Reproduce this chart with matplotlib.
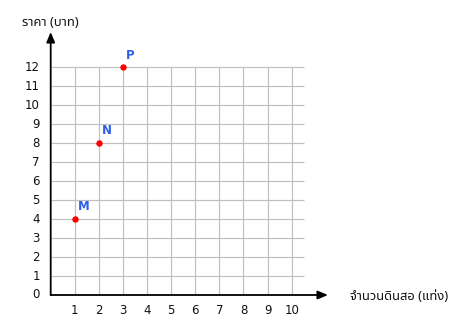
import matplotlib
matplotlib.use("Agg")
import matplotlib.pyplot as plt

# data
x_ticks = [1, 2, 3, 4, 5, 6, 7, 8, 9, 10]
y_ticks = [0, 1, 2, 3, 4, 5, 6, 7, 8, 9, 10, 11, 12]
point_names = ["M", "N", "P"]
point_x = [1, 2, 3]
point_y = [4, 8, 12]
x_label = "จำนวนดินสอ (แท่ง)"
y_label = "ราคา (บาท)"

THAI = ["Noto Sans Thai", "Sarabun", "DejaVu Sans"]

fig = plt.figure(figsize=(4.53, 3.26), dpi=100)
ax = fig.add_axes([0, 0, 1, 1])
# pixel mapping: x=0 at px 50.7, 24.1 px/unit; y=0 at px 295, 18.98 px/unit
sx, sy = 24.1, 18.98
ax.set_xlim(-50.7 / sx, (453 - 50.7) / sx)
ax.set_ylim((295 - 326) / sy, 295 / sy)
ax.axis("off")

grid_c = "#c0c0c0"
xmax_grid = 10.5
for yv in y_ticks[1:]:
    ax.plot([0, xmax_grid], [yv, yv], color=grid_c, lw=0.85, zorder=1, solid_capstyle="butt")
for xv in x_ticks:
    ax.plot([xv, xv], [0, max(y_ticks)], color=grid_c, lw=0.85, zorder=1, solid_capstyle="butt")

# axes with arrows
x_end = (328 - 50.7) / sx
y_end = (295 - 32) / sy
ax.annotate("", xy=(x_end, 0), xytext=(0, 0),
            arrowprops=dict(arrowstyle="-|>,head_length=0.6,head_width=0.25", color="black", lw=1.3,
                            shrinkA=0, shrinkB=0), zorder=3)
ax.annotate("", xy=(0, y_end), xytext=(0, 0),
            arrowprops=dict(arrowstyle="-|>,head_length=0.6,head_width=0.25", color="black", lw=1.3,
                            shrinkA=0, shrinkB=0), zorder=3)

# tick labels
for xv in x_ticks:
    ax.text(xv, -15 / sy, str(xv), ha="center", va="center", fontsize=8.5,
            family="DejaVu Sans", color="#111111")
for yv in y_ticks:
    ax.text(-11 / sx, yv, str(yv), ha="right", va="center", fontsize=8.5,
            family="DejaVu Sans", color="#111111")

# points
ax.plot(point_x, point_y, "o", color="#ff0000", ms=3.6, mec="#ff0000", zorder=4, linestyle="none")
for nm, px, py in zip(point_names, point_x, point_y):
    ax.text(px + 0.12, py + 0.3, nm, ha="left", va="bottom", fontsize=8.5,
            family="DejaVu Sans", color="#2f5fe8", fontweight="bold")

# axis labels
ax.text(22 / sx - 50.7 / sx, (295 - 23) / sy, y_label, ha="left", va="center",
        fontsize=9.3, family=THAI, color="#111111")
ax.text((350 - 50.7) / sx, -1 / sy, x_label, ha="left", va="center",
        fontsize=9.3, family=THAI, color="#111111")

fig.savefig("out.png", dpi=100)
